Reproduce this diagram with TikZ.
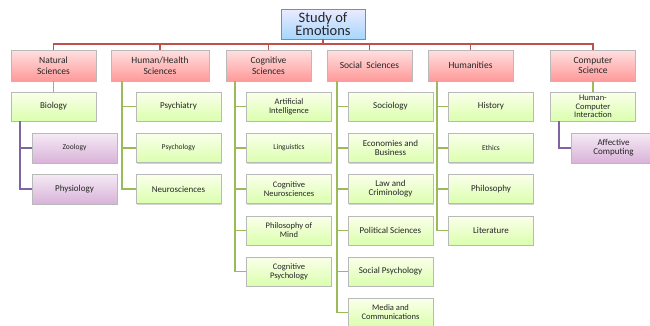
\documentclass[tikz,border=0pt]{standalone}
\usepackage{fontspec}
\setmainfont{Carlito}
\usetikzlibrary{shadows}
\definecolor{redln}{HTML}{C0504D}
\definecolor{greenln}{HTML}{9BBB59}
\definecolor{purpleln}{HTML}{8064A2}
\definecolor{txt}{HTML}{262626}
\tikzset{
  box/.style={rectangle, inner sep=1pt, align=center, text=txt, draw=gray!55, line width=0.5pt,
    drop shadow={shadow xshift=0.8pt, shadow yshift=-1.3pt, opacity=0.35, fill=gray}},
  rootbox/.style={box, top color=blue!8, bottom color=blue!45!cyan!35, draw=blue!40!gray!70,
    minimum width=84pt, minimum height=30pt, font=\fontsize{14.5}{13}\selectfont},
  catbox/.style={box, top color=red!12, bottom color=red!40, minimum width=85pt, minimum height=31pt,
    font=\fontsize{9.5}{10.5}\selectfont},
  leafbox/.style={box, top color=green!20!yellow!8, bottom color=green!45!yellow!32, minimum width=85pt, minimum height=29pt,
    font=\fontsize{9}{10}\selectfont},
  subbox/.style={box, top color=violet!8, bottom color=violet!30, minimum width=85pt, minimum height=30pt,
    font=\fontsize{9}{10}\selectfont},
  smalltxt/.style={font=\fontsize{7.5}{8.5}\selectfont},
  midtxt/.style={font=\fontsize{8.5}{9}\selectfont},
  redline/.style={draw=redln, line width=1.6pt},
  greenline/.style={draw=greenln, line width=1.8pt},
  purpleline/.style={draw=purpleln, line width=1.8pt},
}
\begin{document}
\begin{tikzpicture}[x=1pt,y=-1pt]
\useasboundingbox (0,0) rectangle (650,325);
% root
\node[rootbox] (root) at (323,24) {Study of\\Emotions};
% categories
\node[catbox] (nat) at (53.5,65.5) {Natural\\Sciences};
\node[catbox, minimum width=98pt] (hh) at (160,65.5) {Human/Health\\Sciences};
\node[catbox] (cog) at (268.5,65.5) {Cognitive\\Sciences};
\node[catbox] (soc) at (369.5,65.5) {Social\ \ Sciences};
\node[catbox] (hum) at (470.5,65.5) {Humanities};
\node[catbox] (cs) at (593,65.5) {Computer\\Science};
% leaves
\node[leafbox] (bio) at (53.5,106.5) {Biology};
\node[subbox, smalltxt] (zoo) at (74.5,148) {Zoology};
\node[subbox] (phys) at (74.5,189) {Physiology};

\node[leafbox] (psychi) at (178.5,106.5) {Psychiatry};
\node[leafbox, smalltxt] (psycho) at (178.5,148) {Psychology};
\node[leafbox] (neuro) at (178.5,189) {Neurosciences};

\node[leafbox, midtxt] (ai) at (289,106.5) {Artificial\\Intelligence};
\node[leafbox, smalltxt] (ling) at (289,148) {Linguistics};
\node[leafbox, midtxt] (cneuro) at (289,189) {Cognitive\\Neurosciences};
\node[leafbox, midtxt] (pmind) at (289,230.5) {Philosophy of\\Mind};
\node[leafbox, midtxt] (cpsy) at (289,271.5) {Cognitive\\Psychology};

\node[leafbox] (socio) at (390.5,106.5) {Sociology};
\node[leafbox, font=\fontsize{9}{9}\selectfont] (econ) at (390.5,148) {Economies and\\Business};
\node[leafbox, font=\fontsize{9}{9}\selectfont] (law) at (390.5,189) {Law and\\Criminology};
\node[leafbox] (pol) at (390.5,230.5) {Political Sciences};
\node[leafbox] (spsy) at (390.5,271.5) {Social Psychology};
\node[leafbox, midtxt] (media) at (390.5,312.5) {Media and\\Communications};

\node[leafbox] (hist) at (491,106.5) {History};
\node[leafbox, smalltxt] (eth) at (491,148) {Ethics};
\node[leafbox] (phil) at (491,189) {Philosophy};
\node[leafbox] (lit) at (491,230.5) {Literature};

\node[leafbox, font=\fontsize{8.5}{8.5}\selectfont] (hci) at (593,106.5) {Human-\\Computer\\Interaction};
\node[subbox, font=\fontsize{9}{9}\selectfont] (aff) at (613.5,148) {Affective\\Computing};

% red connectors
\coordinate (bus) at (323,44);
\draw[redline] (root.south) -- (bus);
\foreach \c in {nat,hh,cog,soc,hum,cs}{
  \draw[redline] (bus) -| (\c.north);
}
% trunks
\coordinate (nt) at (20,121);
\coordinate (hht) at (122,81);
\coordinate (cgt) at (235,81);
\coordinate (sct) at (337,81);
\coordinate (hmt) at (437,81);
\coordinate (cst) at (559,121);

\draw[greenline] (nat) -- (bio);
\draw[greenline] (cs) -- (hci);
\foreach \l in {zoo,phys}{\draw[purpleline] (nt) |- (\l.west);}
\draw[purpleline] (cst) |- (aff.west);
\foreach \l in {psychi,psycho,neuro}{\draw[greenline] (hht) |- (\l.west);}
\foreach \l in {ai,ling,cneuro,pmind,cpsy}{\draw[greenline] (cgt) |- (\l.west);}
\foreach \l in {socio,econ,law,pol,spsy,media}{\draw[greenline] (sct) |- (\l.west);}
\foreach \l in {hist,eth,phil,lit}{\draw[greenline] (hmt) |- (\l.west);}
\end{tikzpicture}
\end{document}
